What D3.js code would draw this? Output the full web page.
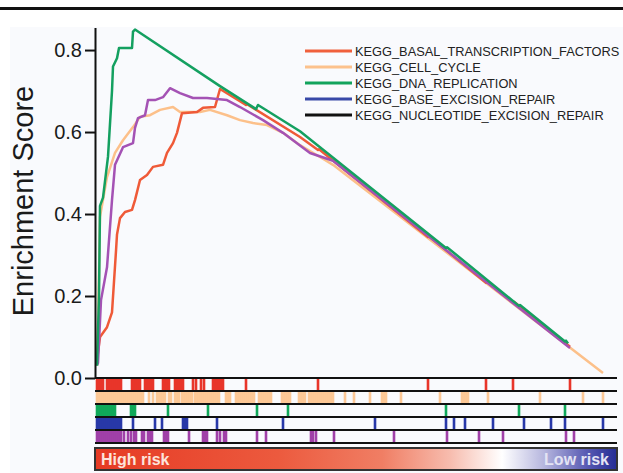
<!DOCTYPE html>
<html>
<head>
<meta charset="utf-8">
<script src="https://cdn.jsdelivr.net/npm/d3@7"></script>
<style>
  body { margin: 0; background: #fff; }
  svg { display: block; font-family: "Liberation Sans", Arial, sans-serif; }
</style>
</head>
<body>
<div id="chart"><svg width="623" height="473"></svg></div>
<script>
// pathway names (legend order)
const pathways = ["KEGG_BASAL_TRANSCRIPTION_FACTORS", "KEGG_CELL_CYCLE", "KEGG_DNA_REPLICATION",
                  "KEGG_BASE_EXCISION_REPAIR", "KEGG_NUCLEOTIDE_EXCISION_REPAIR"];
const legendColors = ["#f0603c", "#fcc18c", "#12a35c", "#3848a8", "#111111"];

const maxRank = 522;
const yTicks = [0, 0.2, 0.4, 0.6, 0.8];

// running enrichment score: [rank, ES]
const esBasal = [[2,0.044],[5,0.10],[12,0.124],[17,0.16],[21,0.31],[22,0.35],[25,0.39],[30,0.405],[37,0.41],[40,0.434],
  [45,0.483],[52,0.495],[58,0.515],[68,0.52],[72,0.549],[78,0.573],[82,0.598],[87,0.646],[102,0.649],[108,0.659],
  [120,0.661],[125,0.705],[151,0.666],[152,0.668],[205,0.588],[223,0.556],[224,0.558],[333,0.344],[334,0.346],
  [391,0.232],[392,0.234],[418,0.184],[419,0.186],[475,0.076]];
const esCellCycle = [[2,0.03],[4,0.25],[5,0.393],[12,0.49],[20,0.549],[28,0.58],[38,0.612],[45,0.637],[55,0.641],
  [65,0.654],[78,0.661],[85,0.649],[105,0.649],[115,0.654],[132,0.641],[145,0.629],[158,0.622],[172,0.617],
  [188,0.598],[205,0.568],[225,0.539],[238,0.52],[508,0.012]];
const esDnaRep = [[2,0.03],[4,0.2],[5,0.42],[8,0.44],[13,0.54],[17,0.70],[18,0.76],[22,0.78],[24,0.805],[37,0.805],
  [38,0.845],[40,0.85],[125,0.712],[161,0.656],[163,0.666],[205,0.602],[225,0.563],[351,0.317],[352,0.319],
  [424,0.176],[425,0.178],[470,0.089],[471,0.091],[473,0.084]];
const esNucExc = [[2,0.032],[3,0.037],[6,0.19],[12,0.27],[17,0.434],[20,0.52],[28,0.563],[38,0.573],[40,0.61],
  [43,0.634],[50,0.641],[53,0.678],[60,0.678],[68,0.685],[75,0.707],[85,0.695],[98,0.683],[112,0.683],[132,0.678],
  [145,0.661],[168,0.629],[188,0.598],[215,0.549],[238,0.53],[475,0.073]];

// hit positions (ranks) for each gene set
const hitsBasal = [2,4,6,8,12,14,16,18,20,22,24,26,37,39,41,43,45,50,52,54,56,58,68,70,72,74,80,82,84,86,88,
  98,101,106,109,118,120,122,124,126,128,151,223,333,391,418,475];
const hitsCellCycle = [2,4,6,8,10,12,14,16,18,20,22,24,26,28,30,32,34,36,38,40,42,44,46,48,54,58,62,64,66,68,70,
  74,76,80,82,84,87,89,91,93,95,97,100,102,104,106,108,110,112,114,116,118,120,122,124,131,133,135,
  141,143,145,147,149,151,153,155,157,159,164,166,168,170,172,174,176,187,189,191,193,195,204,206,208,210,
  214,216,218,220,222,224,226,228,230,232,234,236,238,250,259,275,287,289,291,306,345,367,369,371,373,393,445,488,508];
const hitsDnaRep = [2,4,6,8,10,12,14,16,18,20,36,38,40,73,113,162,193,351,424,470];
const hitsBaseExc = [2,4,6,8,10,12,14,16,18,20,22,24,26,38,60,67,88,90,92,122,188,280,351,359,370,398,429,456,470,508];
const hitsNucExc = [2,4,6,8,10,12,14,16,18,20,22,24,26,29,33,36,39,41,47,49,53,55,57,69,71,73,94,108,110,112,
  122,125,129,131,162,171,216,218,221,239,299,352,384,408,471,479];

const svg = d3.select("#chart").select("svg");

svg.append("rect").attr("x", 0).attr("y", 0).attr("width", 623).attr("height", 473).attr("fill", "#fff");
svg.append("rect").attr("x", 10).attr("y", 27).attr("width", 613).attr("height", 446).attr("fill", "#f9fafd");
svg.append("rect").attr("x", 0).attr("y", 7).attr("width", 623).attr("height", 3).attr("fill", "#111");

const x = d3.scaleLinear().domain([0, maxRank]).range([95, 617]);
const y = d3.scaleLinear().domain([0, 0.855]).range([378, 27.5]);

// curves
const line = d3.line().x(d => x(d[0])).y(d => y(d[1]));
const curves = [
  {data: esCellCycle, color: "#fcc08a"},
  {data: esBasal, color: "#ef5a38"},
  {data: esNucExc, color: "#a452b4"},
  {data: esDnaRep, color: "#14a060"}
];
svg.selectAll("path.es")
  .data(curves)
  .enter()
  .append("path")
  .attr("class", "es")
  .attr("d", d => line(d.data))
  .attr("fill", "none")
  .attr("stroke", d => d.color)
  .attr("stroke-width", 2.5)
  .attr("stroke-linejoin", "round");

// y axis
const yAxis = svg.append("g")
  .attr("transform", "translate(95,0)")
  .call(d3.axisLeft(y).tickValues(yTicks).tickFormat(d3.format(".1f")).tickSize(10).tickSizeOuter(0));
yAxis.select(".domain").attr("stroke", "#111").attr("stroke-width", 2);
yAxis.selectAll(".tick line").attr("stroke", "#111").attr("stroke-width", 2);
yAxis.selectAll(".tick text")
  .attr("x", -13)
  .attr("font-size", 20)
  .attr("font-family", "Liberation Sans, Arial, sans-serif")
  .attr("fill", "#1a1a1a");

svg.append("text")
  .attr("transform", "translate(33,201) rotate(-90)")
  .attr("text-anchor", "middle")
  .attr("font-size", 29)
  .attr("fill", "#1a1a1a")
  .text("Enrichment Score");

// legend
const legend = svg.selectAll("g.legend")
  .data(pathways)
  .enter()
  .append("g")
  .attr("class", "legend")
  .attr("transform", (d, i) => "translate(305," + (51 + i * 16) + ")");
legend.append("line")
  .attr("x1", 0).attr("x2", 47).attr("y1", 0).attr("y2", 0)
  .attr("stroke", (d, i) => legendColors[i])
  .attr("stroke-width", 3);
legend.append("text")
  .attr("x", 50).attr("y", 4.5)
  .attr("font-size", 12.8)
  .attr("fill", "#222")
  .text(d => d);

// hit tracks
const tracks = [
  {hits: hitsBasal, color: "#e8352a"},
  {hits: hitsCellCycle, color: "#fcc896"},
  {hits: hitsDnaRep, color: "#10a85a"},
  {hits: hitsBaseExc, color: "#2838a8"},
  {hits: hitsNucExc, color: "#a040a8"}
];
const trackTop = 378, trackH = 13;
tracks.forEach(function(t, i) {
  svg.append("g")
    .selectAll("rect")
    .data(t.hits)
    .enter()
    .append("rect")
    .attr("x", d => x(d) - 1.3)
    .attr("y", trackTop + i * trackH)
    .attr("width", 2.6)
    .attr("height", trackH)
    .attr("fill", t.color);
});
d3.range(6).forEach(function(i) {
  svg.append("line")
    .attr("x1", 95).attr("x2", 617)
    .attr("y1", trackTop + i * trackH).attr("y2", trackTop + i * trackH)
    .attr("stroke", "#111")
    .attr("stroke-width", 2);
});

// risk colour bar
const defs = svg.append("defs");
const grad = defs.append("linearGradient").attr("id", "risk");
[[0, "#e63a24"], [0.35, "#ec5a3e"], [0.55, "#f07e64"], [0.68, "#f7bcae"], [0.78, "#ffffff"],
 [0.86, "#b6b6de"], [0.94, "#5a5cb4"], [1, "#242c94"]].forEach(function(s) {
  grad.append("stop").attr("offset", s[0]).attr("stop-color", s[1]);
});
svg.append("rect")
  .attr("x", 95).attr("y", 448).attr("width", 522).attr("height", 22)
  .attr("fill", "url(#risk)")
  .attr("stroke", "#333")
  .attr("stroke-width", 2);
svg.append("text")
  .attr("x", 101).attr("y", 465)
  .attr("font-size", 16)
  .attr("font-weight", "bold")
  .attr("fill", "#fde4dc")
  .text("High risk");
svg.append("text")
  .attr("x", 609).attr("y", 465)
  .attr("text-anchor", "end")
  .attr("font-size", 16)
  .attr("font-weight", "bold")
  .attr("fill", "#e4e4f4")
  .text("Low risk");
</script>
</body>
</html>
